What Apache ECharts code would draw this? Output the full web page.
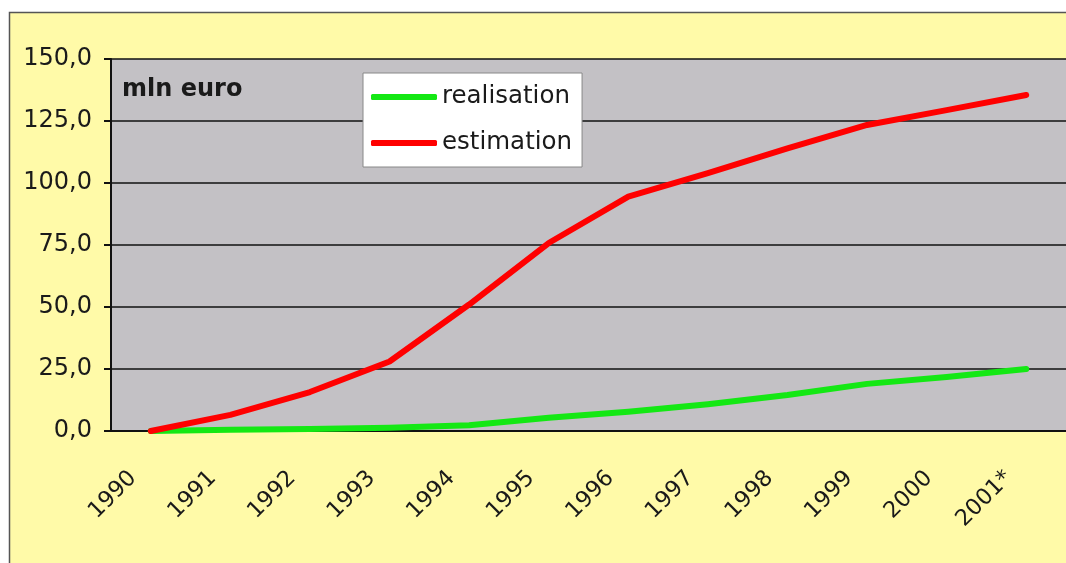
<!DOCTYPE html>
<html>
<head>
<meta charset="utf-8">
<script src="https://cdn.jsdelivr.net/npm/echarts@6/dist/echarts.min.js"></script>
<style>
  html, body { margin: 0; padding: 0; background: #fff; }
  #main { width: 1066px; height: 563px; }
</style>
</head>
<body>
<div id="main"></div>
<script>
var years = ['1990', '1991', '1992', '1993', '1994', '1995', '1996', '1997', '1998', '1999', '2000', '2001*'];
var realisation = [0, 0.5, 0.8, 1.3, 2.3, 5.3, 7.8, 10.8, 14.5, 19.0, 21.8, 25.0];
var estimation = [0, 6.5, 15.7, 28.0, 51.0, 75.8, 94.5, 104.0, 114.0, 123.4, 129.4, 135.5];
var yTicks = ['0,0', '25,0', '50,0', '75,0', '100,0', '125,0', '150,0'];

var dom = document.getElementById('main');
var myChart = echarts.init(dom);
var font = 'DejaVu Sans';

var option = {
    animation: false,
    backgroundColor: '#ffffff',
    graphic: [
        {
            type: 'rect',
            z: -10,
            shape: { x: 9.5, y: 12.5, width: 1100, height: 600 },
            style: { fill: '#fffaa8', stroke: '#555555', lineWidth: 1.5 }
        },
        {
            type: 'text',
            z: 10,
            x: 122,
            y: 90,
            style: {
                text: 'mln euro',
                font: 'bold 24px "DejaVu Sans"',
                fill: '#1a1a1a',
                verticalAlign: 'middle'
            }
        }
    ],
    color: ['#14e814', '#ff0000'],
    legend: {
        orient: 'vertical',
        left: 363,
        top: 73,
        padding: [11, 10, 11, 8],
        itemGap: 20,
        itemWidth: 66,
        itemHeight: 6,
        icon: 'roundRect',
        backgroundColor: '#ffffff',
        borderColor: '#888888',
        borderWidth: 1,
        borderRadius: 0,
        textStyle: {
            fontFamily: font,
            fontSize: 24.5,
            lineHeight: 26,
            color: '#1a1a1a'
        },
        data: ['realisation', 'estimation']
    },
    grid: {
        left: 111,
        top: 59,
        bottom: 132,
        right: -7,
        show: true,
        backgroundColor: '#c3c1c5',
        borderWidth: 0
    },
    xAxis: {
        type: 'category',
        data: years,
        boundaryGap: true,
        axisLine: { lineStyle: { color: '#111', width: 2 } },
        axisTick: { length: 10, lineStyle: { color: '#111', width: 2 } },
        axisLabel: {
            rotate: 45,
            interval: 0,
            margin: 26,
            padding: [0, 25, 0, 0],
            fontFamily: font,
            fontSize: 22.5,
            color: '#1a1a1a'
        },
        splitLine: { show: false }
    },
    yAxis: {
        type: 'value',
        min: 0,
        max: 150,
        interval: 25,
        axisLine: { show: true, lineStyle: { color: '#111', width: 2 } },
        axisTick: { show: true, length: 7, lineStyle: { color: '#111', width: 2 } },
        axisLabel: {
            margin: 19,
            fontFamily: font,
            fontSize: 24,
            color: '#1a1a1a',
            formatter: function (v) { return yTicks[Math.round(v / 25)]; }
        },
        splitLine: { lineStyle: { color: '#111', width: 1.5 } }
    },
    series: [
        {
            name: 'realisation',
            type: 'line',
            data: realisation,
            showSymbol: false,
            lineStyle: { width: 6, cap: 'round', join: 'round' }
        },
        {
            name: 'estimation',
            type: 'line',
            data: estimation,
            showSymbol: false,
            lineStyle: { width: 6, cap: 'round', join: 'round' }
        }
    ]
};

if (option && typeof option === 'object') {
    myChart.setOption(option, true);
}
</script>
</body>
</html>
